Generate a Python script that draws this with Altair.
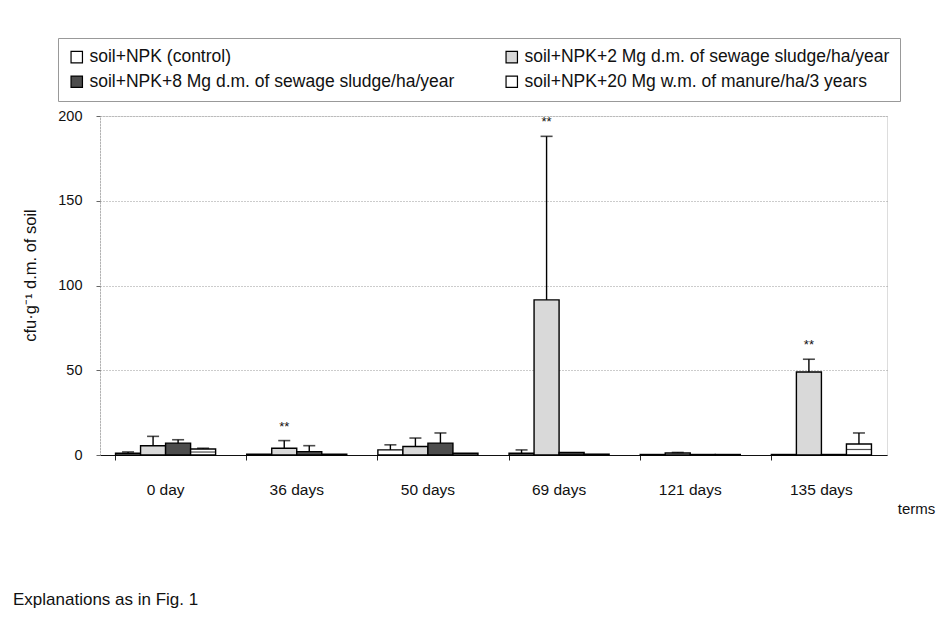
import altair as alt
import pandas as pd

terms = ["0 day", "36 days", "50 days", "69 days", "121 days", "135 days"]
series = [
    "soil+NPK (control)",
    "soil+NPK+2 Mg d.m. of sewage sludge/ha/year",
    "soil+NPK+8 Mg d.m. of sewage sludge/ha/year",
    "soil+NPK+20 Mg w.m. of manure/ha/3 years",
]
control = [1.0, 0.5, 3.0, 1.0, 0.3, 0.3]
control_err = [0.8, 0.0, 3.0, 2.0, 0.0, 0.0]
mg2 = [5.5, 4.0, 5.0, 91.5, 1.2, 49.0]
mg2_err = [5.5, 4.5, 5.0, 96.5, 0.3, 7.5]
mg8 = [7.0, 2.0, 7.0, 1.5, 0.3, 0.3]
mg8_err = [2.0, 3.5, 6.0, 0.0, 0.0, 0.0]
manure = [3.5, 0.5, 1.0, 0.5, 0.3, 6.5]
manure_err = [0.5, 0.0, 0.0, 0.0, 0.0, 6.5]
star_terms = ["36 days", "69 days", "135 days"]
star_label = "**"

vals = [control, mg2, mg8, manure]
errs = [control_err, mg2_err, mg8_err, manure_err]
rows = []
for s, v, e in zip(series, vals, errs):
    for t, vv, ee in zip(terms, v, e):
        rows.append({"term": t, "series": s, "value": vv, "err": ee,
                     "top": vv + ee, "mid": vv / 2,
                     "star": star_label if (s == series[1] and t in star_terms) else ""})
df = pd.DataFrame(rows)

FONT = "Liberation Sans"

x = alt.X("term:N", sort=terms,
          scale=alt.Scale(paddingInner=0.237, paddingOuter=0.1185),
          axis=alt.Axis(title="terms", titleX=816, titleY=53, titleAlign="center",
                        titleBaseline="middle", titleFontWeight="normal", titleFontSize=15,
                        titleFont=FONT, labelAngle=0, labelFontSize=15.5, labelFont=FONT,
                        labelPadding=22, bandPosition=0, tickSize=5, tickColor="#222",
                        domainColor="#111", domainWidth=1.2, labelColor="#111", titleColor="#111"))
xo = alt.XOffset("series:N", sort=series, scale=alt.Scale(paddingInner=0, paddingOuter=0))

base = alt.Chart(df)

bars = base.mark_bar(stroke="black", strokeWidth=1.4).encode(
    x=x, xOffset=xo,
    y=alt.Y("value:Q", scale=alt.Scale(domain=[0, 200]),
            axis=alt.Axis(values=[0, 50, 100, 150, 200], title="cfu·g⁻¹ d.m. of soil",
                          titleX=-70, titleY=159, titleBaseline="middle",
                          titleFontWeight="normal", titleFontSize=16.5,
                          titleFont=FONT, labelFontSize=14.5, labelFont=FONT, labelPadding=14,
                          tickSize=4, tickColor="#666", domainColor="#888", domainDash=[1, 2],
                          gridColor="#999", gridDash=[1, 2], labelColor="#111", titleColor="#111")),
    fill=alt.Fill("series:N", sort=series,
                  scale=alt.Scale(domain=series, range=["#ffffff", "#d9d9d9", "#4d4d4d", "#ffffff"]),
                  legend=alt.Legend(title=None, orient="none", legendX=-42, legendY=-78,
                                    direction="horizontal",
                                    columns=2, columnPadding=48, rowPadding=6,
                                    symbolType="square", symbolSize=130,
                                    symbolStrokeColor="black", symbolStrokeWidth=1.2,
                                    labelFontSize=17.5, labelFont=FONT, labelLimit=600,
                                    labelColor="#111", padding=10, strokeColor="#999")),
)

errbar = base.transform_filter("datum.err > 0").mark_rule(color="black", strokeWidth=1.4).encode(
    x=x, xOffset=xo, y="value:Q", y2="top:Q")

caps = base.transform_filter("datum.err > 0").mark_tick(color="black", thickness=1.6, size=12).encode(
    x=x, xOffset=xo, y="top:Q")

stripe = base.transform_filter(f"datum.series == '{series[3]}' && datum.value > 2").mark_tick(
    color="black", thickness=1.2, size=25).encode(x=x, xOffset=xo, y="mid:Q")

stars = base.transform_filter("datum.star != ''").mark_text(
    dy=-14, fontSize=13, font=FONT, color="#111").encode(
    x=x, xOffset=xo, y="top:Q", text="star:N")

chart = alt.layer(bars, errbar, caps, stripe, stars).properties(
    width=787, height=339,
    autosize=alt.AutoSizeParams(type="none"),
    padding={"left": 100, "top": 116, "right": 54, "bottom": 173},
    title=alt.TitleParams("Explanations as in Fig. 1", orient="bottom", anchor="start",
                          frame="group", dx=-87, offset=76, fontSize=17, font=FONT,
                          fontWeight="normal", color="#111"),
).configure_view(stroke="#999", strokeDash=[1, 2]).configure_legend(
    strokeDash=[1, 2]).configure(background="white")

chart.save("out.html", embed_options={"renderer": "svg", "actions": False})
